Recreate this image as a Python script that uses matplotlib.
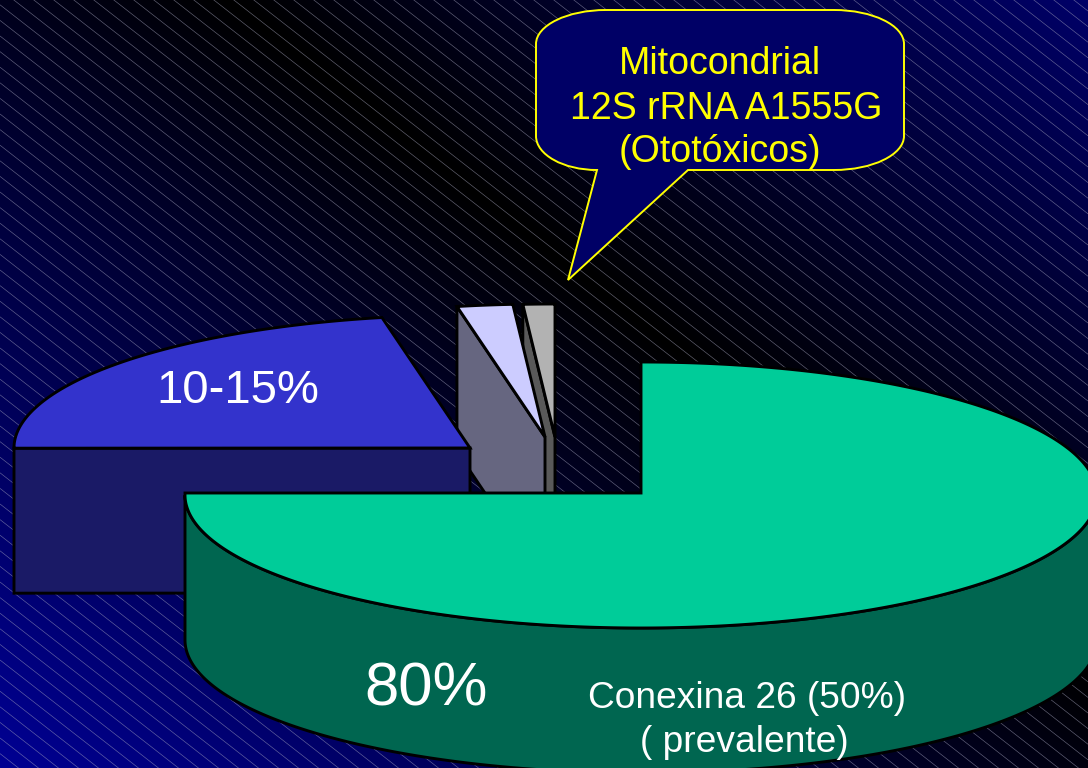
import numpy as np
import matplotlib
matplotlib.use("Agg")
import matplotlib.pyplot as plt
from matplotlib.collections import LineCollection
from matplotlib.patches import PathPatch, Polygon
from matplotlib.path import Path

# Slice weights, in pie order running clockwise from twelve o'clock
slice_names = ["Conexina 26", "Otros", "Ototóxicos", "Resto"]
slice_weights = [80, 23.4, 2.1, 1.2]

# Pie geometry in canvas pixels
RX, RY, DEPTH = 456, 133, 145
centres = {"Conexina 26": (641, 493), "Otros": (470, 448),
           "Ototóxicos": (545, 437), "Resto": (555, 437)}
top_colours = {"Conexina 26": "#00cc99", "Otros": "#3333cc",
               "Ototóxicos": "#ccccff", "Resto": "#b2b2b2"}
side_colours = {"Conexina 26": "#006650", "Otros": "#1a1a66",
                "Ototóxicos": "#666680", "Resto": "#595959"}
OUTLINE = 2.1

fig = plt.figure(figsize=(10.88, 7.68), dpi=100)
ax = fig.add_axes([0, 0, 1, 1])
ax.set_xlim(0, 1088)
ax.set_ylim(768, 0)
ax.axis("off")
plt.rcParams["font.family"] = ["Liberation Sans", "DejaVu Sans"]

# Diagonal navy-to-black background
SLOPE = 0.78
yy, xx = np.mgrid[0:768, 0:1088]
dist = np.abs(yy - SLOPE * (xx - 230))
blue = np.clip(dist * 0.155, 0, 150)
bg = np.dstack([np.zeros_like(blue), np.zeros_like(blue), blue]) / 255
ax.imshow(bg, extent=(0, 1088, 768, 0), aspect="auto", zorder=0)

# Fine diagonal hatching over the background
offsets = np.arange(-900, 800, 15.6)
hatch = [[(0, c), (1088, c + SLOPE * 1088)] for c in offsets]
ax.add_collection(LineCollection(hatch, colors="#a8a8c0", linewidths=0.45,
                                 alpha=0.6, zorder=1))


def rim(cx, cy, t0, t1, n=120):
    t = np.radians(np.linspace(t0, t1, n))
    return np.column_stack([cx + RX * np.cos(t), cy - RY * np.sin(t)])


def poly(points, colour, z):
    ax.add_patch(Polygon(points, closed=True, facecolor=colour, edgecolor="black",
                         linewidth=OUTLINE, joinstyle="miter", zorder=z))


# Angles come from the weights, clockwise from the top of the pie
total = sum(slice_weights)
angles = {}
start = 90.0
for name, weight in zip(slice_names, slice_weights):
    end = start - weight / total * 360
    angles[name] = (start, end)
    start = end

# Back slices first, each with its cut face and then its top
for z, name in zip((3, 5), ("Resto", "Ototóxicos")):
    cx, cy = centres[name]
    t0, t1 = angles[name]
    r = rim(cx, cy, t0, t0, 1)[0]
    face = [tuple(r), (cx, cy), (cx, cy + DEPTH), (r[0], r[1] + DEPTH)]
    poly(face, side_colours[name], z)
    poly(np.vstack([[(cx, cy)], rim(cx, cy, t0, t1)]), top_colours[name], z + 1)

# Detached blue slice with its flat front
cx, cy = centres["Otros"]
t0, t1 = angles["Otros"]
left = rim(cx, cy, t0, t0, 1)[0]
poly([tuple(left), (cx, cy), (cx, cy + DEPTH), (left[0], left[1] + DEPTH)],
     side_colours["Otros"], 7)
poly(np.vstack([[(cx, cy)], rim(cx, cy, t0, t1)]), top_colours["Otros"], 8)

# Main slice: curved wall, then the top; the rim sits slightly below the apex
cx, cy = centres["Conexina 26"]
t0, t1 = angles["Conexina 26"]
front = rim(cx, cy + 2, 0, t1, 240)
wall = np.vstack([front, (front + [0, DEPTH])[::-1]])
poly(wall, side_colours["Conexina 26"], 9)
top_rim = rim(cx, cy + 2, t0, t1, 360)
poly(np.vstack([[(cx, cy)], top_rim, [(top_rim[-1, 0], cy)]]),
     top_colours["Conexina 26"], 10)

# Speech balloon
L, R, T, B = 536, 904, 10, 170
CX, CY = 70, 34
TAIL_L, TAIL_R = 597, 688
K = 0.45
verts = [(L + CX, T), (R - CX, T),
         (R - CX * K, T), (R, T + CY * K), (R, T + CY),
         (R, B - CY),
         (R, B - CY * K), (R - CX * K, B), (R - CX, B),
         (TAIL_R, B), (568, 280), (TAIL_L, B),
         (L + (TAIL_L - L) * K, B), (L, B - CY * K), (L, B - CY),
         (L, T + CY),
         (L, T + CY * K), (L + CX * K, T), (L + CX, T)]
codes = [Path.MOVETO, Path.LINETO,
         Path.CURVE4, Path.CURVE4, Path.CURVE4,
         Path.LINETO,
         Path.CURVE4, Path.CURVE4, Path.CURVE4,
         Path.LINETO, Path.LINETO, Path.LINETO,
         Path.CURVE4, Path.CURVE4, Path.CURVE4,
         Path.LINETO,
         Path.CURVE4, Path.CURVE4, Path.CURVE4]
ax.add_patch(PathPatch(Path(verts, codes), facecolor="#000066", edgecolor="#ffff00",
                       linewidth=1.4, joinstyle="miter", zorder=12))

# Labels
for label, x, y in (("Mitocondrial", 720, 74), ("12S rRNA A1555G", 726, 119),
                    ("(Ototóxicos)", 720, 162)):
    ax.text(x, y, label, color="#ffff00", fontsize=27, ha="center",
            va="baseline", zorder=13)
ax.text(238, 403, "10-15%", color="white", fontsize=34, ha="center",
        va="baseline", zorder=13)
ax.text(426, 706, "80%", color="white", fontsize=44.5, ha="center",
        va="baseline", zorder=13)
ax.text(747, 708, "Conexina 26 (50%)", color="white", fontsize=26.7, ha="center",
        va="baseline", zorder=13)
ax.text(744, 752, "( prevalente)", color="white", fontsize=26.7, ha="center",
        va="baseline", zorder=13)

fig.savefig("out.png", dpi=100)
